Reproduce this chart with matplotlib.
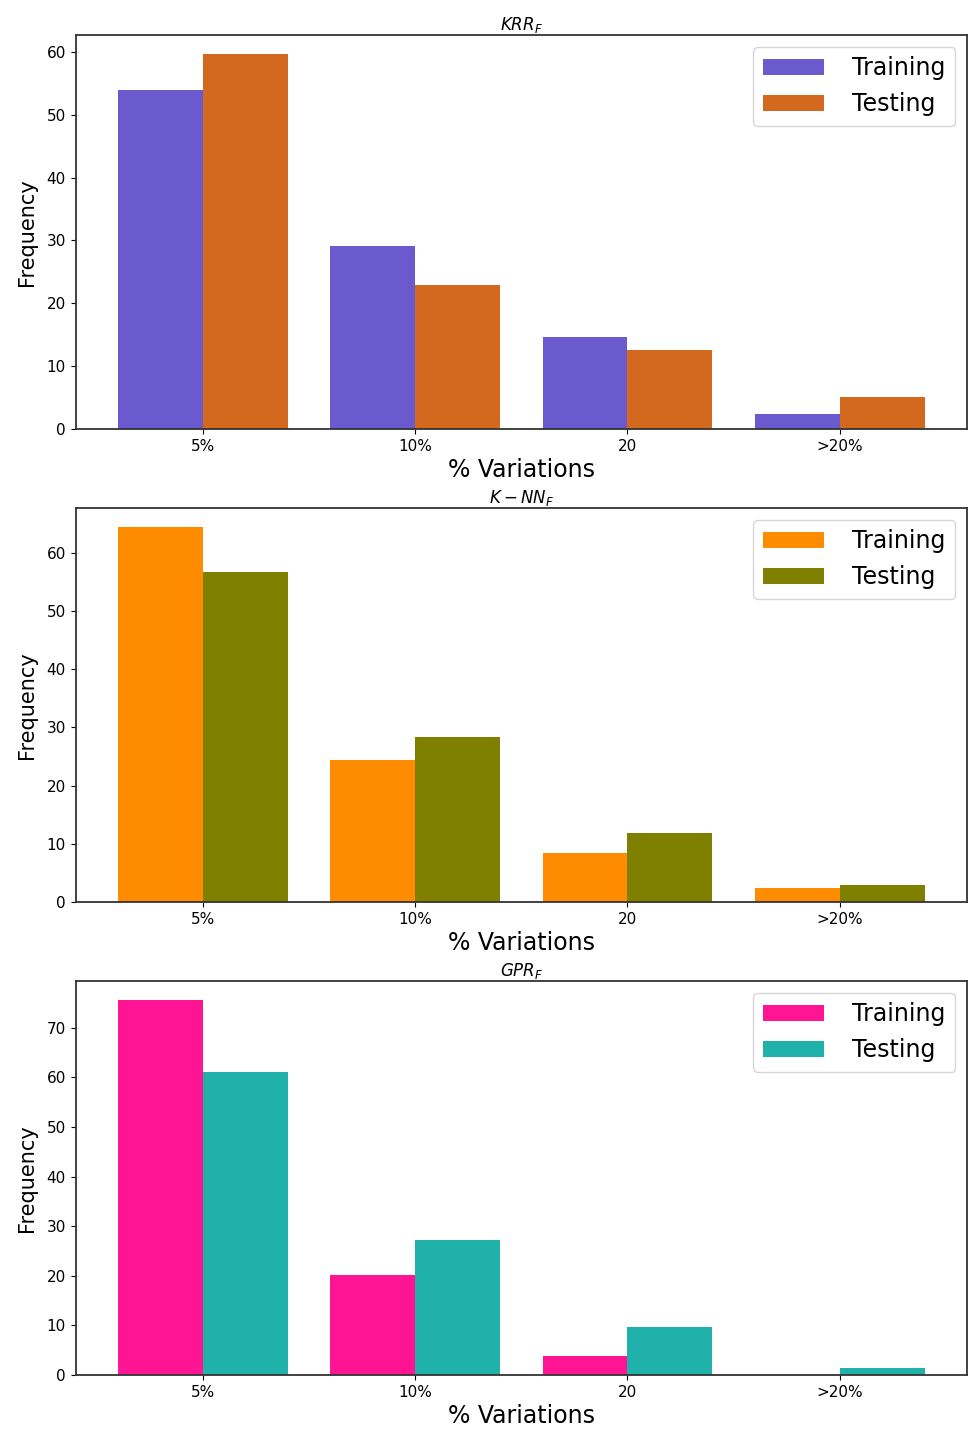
import numpy as np
import matplotlib.pyplot as plt

categories = ['5%', '10%', '20', '>20%']

krr_train = [54.0, 29.2, 14.6, 2.4]
krr_test = [59.7, 22.9, 12.5, 5.1]

knn_train = [64.5, 24.4, 8.4, 2.4]
knn_test = [56.7, 28.4, 11.9, 2.9]

gpr_train = [75.6, 20.2, 3.8, 0.0]
gpr_test = [61.1, 27.2, 9.7, 1.4]

titles = ['$KRR_F$', '$K-NN_F$', '$GPR_F$']
train_sets = [krr_train, knn_train, gpr_train]
test_sets = [krr_test, knn_test, gpr_test]
colors = [('slateblue', 'chocolate'),
          ('darkorange', 'olive'),
          ('deeppink', 'lightseagreen')]

fig = plt.figure(figsize=(9.7, 14.31), dpi=100)
boxes = [0.7002, 0.3697, 0.0391]
height = 0.2753

x = np.arange(len(categories))
w = 0.4

for i in range(3):
    ax = fig.add_axes([0.078, boxes[i], 0.919, height])
    ax.bar(x - w / 2, train_sets[i], w, color=colors[i][0], label='Training')
    ax.bar(x + w / 2, test_sets[i], w, color=colors[i][1], label='Testing')
    ax.set_xticks(x)
    ax.set_xticklabels(categories, fontsize=11)
    ax.tick_params(axis='y', labelsize=11)
    ax.set_xlim(-0.6, 3.6)
    top = max(max(train_sets[i]), max(test_sets[i])) * 1.05
    ax.set_ylim(0, top)
    ax.set_xlabel('% Variations', fontsize=17, labelpad=3)
    ax.set_ylabel('Frequency', fontsize=15, labelpad=7)
    ax.set_title(titles[i], fontsize=12, pad=3)
    ax.legend(loc='upper right', fontsize=17, handlelength=2.6,
              handletextpad=1.2)
    for s in ax.spines.values():
        s.set_linewidth(1.3)
        s.set_color('#333333')

fig.savefig('out.png', dpi=100)
